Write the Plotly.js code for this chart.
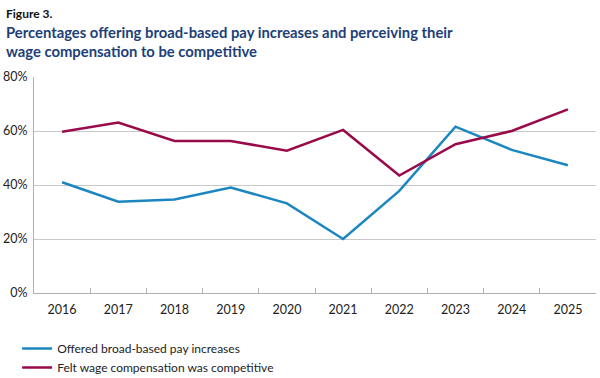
<!DOCTYPE html>
<html><head><meta charset="utf-8">
<script src="https://cdn.plot.ly/plotly-3.0.1.min.js"></script>
<style>html,body{margin:0;padding:0;background:#fff}#chart{width:600px;height:378px}</style>
</head><body><div id="chart"></div>
<script>
const years = ['2016','2017','2018','2019','2020','2021','2022','2023','2024','2025'];
const offeredIncreases = [41.0, 33.8, 34.6, 39.1, 33.2, 20.0, 37.8, 61.6, 53.0, 47.3];
const feltCompetitive = [59.7, 63.1, 56.3, 56.3, 52.7, 60.4, 43.5, 55.1, 60.0, 68.0];
const yTicks = [0, 20, 40, 60, 80];
const yTickLabels = ['0%', '20%', '40%', '60%', '80%'];

const font = 'Lato, "Open Sans", sans-serif';
const data = [
  {x: years, y: offeredIncreases, type: 'scatter', mode: 'lines', name: 'Offered broad-based pay increases',
   line: {color: '#1b86bf', width: 2.5}},
  {x: years, y: feltCompetitive, type: 'scatter', mode: 'lines', name: 'Felt wage compensation was competitive',
   line: {color: '#990a4b', width: 2.5}}
];
const layout = {
  width: 600, height: 378,
  margin: {l: 34, r: 4, t: 77, b: 85, autoexpand: false},
  paper_bgcolor: '#fff', plot_bgcolor: '#fff',
  font: {family: font, size: 12, color: '#222'},
  showlegend: true,
  legend: {orientation: 'v', x: -0.03, xanchor: 'left', y: -0.19, yanchor: 'top',
           font: {family: font, size: 12, color: '#222'}, tracegroupgap: 0, itemwidth: 30},
  xaxis: {type: 'category', range: [-0.5, 9.5], tickson: 'boundaries', ticks: 'inside', ticklen: 5,
          tickcolor: '#b0b0b0', showline: true, linecolor: '#b0b0b0', linewidth: 1, showgrid: false,
          ticklabelstandoff: 5,
          tickfont: {family: font, size: 12.5, color: '#222'}, fixedrange: true},
  yaxis: {range: [0, 80], tickvals: yTicks, ticktext: yTickLabels, showgrid: true, gridcolor: '#c8c8c8',
          showline: true, linecolor: '#b0b0b0', zeroline: false, ticks: '', ticklabelstandoff: 3,
          tickfont: {family: font, size: 12.5, color: '#222'}, fixedrange: true},
  annotations: [
    {text: '<b>Figure 3.</b>', xref: 'paper', yref: 'paper', x: 0, y: 1, xanchor: 'left', yanchor: 'top',
     xshift: -30, yshift: 73, showarrow: false, font: {family: font, size: 12, color: '#111'}},
    {text: '<b>Percentages offering broad-based pay increases and perceiving their<br>wage compensation to be competitive</b>',
     xref: 'paper', yref: 'paper', x: 0, y: 1, xanchor: 'left', yanchor: 'top', align: 'left',
     xshift: -30, yshift: 56, showarrow: false, font: {family: font, size: 14.8, color: '#213f78'}}
  ]
};
Plotly.newPlot('chart', data, layout, {displayModeBar: false, staticPlot: true});
</script></body></html>
